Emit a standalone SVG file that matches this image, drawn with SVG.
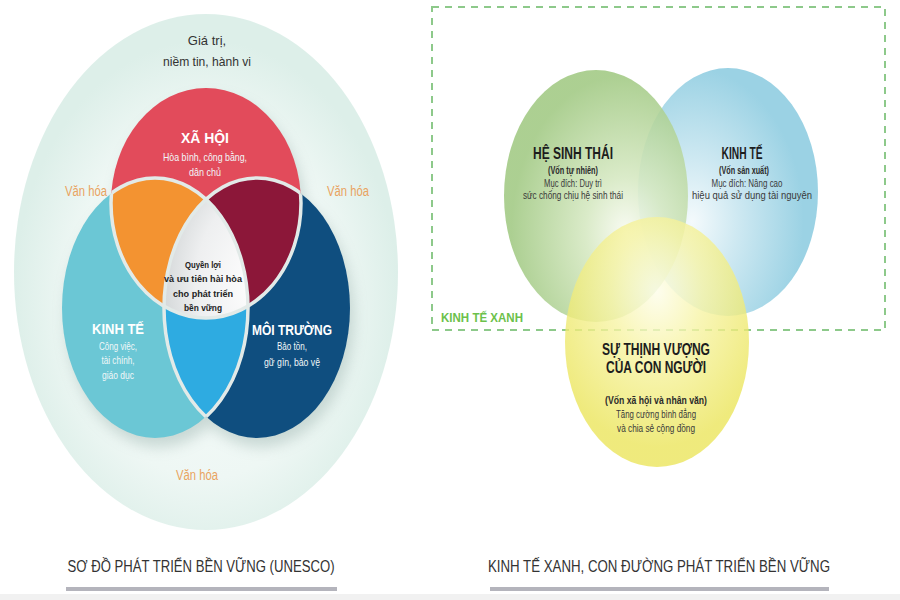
<svg xmlns="http://www.w3.org/2000/svg" xmlns:xlink="http://www.w3.org/1999/xlink" width="900" height="600" viewBox="0 0 900 600">
<style>
  text { font-family: "Liberation Sans", Arial, sans-serif; text-anchor: middle; }
  .cap { font-size: 16px; fill: #333; }
  .vh { font-size: 14px; fill: #e9a360; }
  .wt { fill: #ffffff; font-weight: bold; font-size: 15px; }
  .ws { fill: #f1f7f8; font-size: 11px; }
  .ct { fill: #222; font-weight: bold; font-size: 9.5px; }
  .dt { fill: #1d1d1d; font-weight: bold; font-size: 16px; }
  .db { fill: #2a2a2a; font-weight: bold; font-size: 10px; }
  .ds { fill: #3a3a3a; font-size: 10px; }
  .gap { fill: none; stroke: #e2eae8; stroke-width: 3.5; }
</style>
<defs>
  <ellipse id="cR" cx="206" cy="203" rx="95" ry="115"/>
  <ellipse id="cL" cx="155" cy="308" rx="93" ry="130"/>
  <ellipse id="cD" cx="257" cy="308" rx="93" ry="130"/>
  <clipPath id="clipR"><use xlink:href="#cR"/></clipPath>
  <clipPath id="clipL"><use xlink:href="#cL"/></clipPath>
  <clipPath id="clipD"><use xlink:href="#cD"/></clipPath>
  <clipPath id="clipLD"><use xlink:href="#cL"/><use xlink:href="#cD"/></clipPath>
  <clipPath id="clipRD"><use xlink:href="#cR"/><use xlink:href="#cD"/></clipPath>
  <clipPath id="clipRL"><use xlink:href="#cR"/><use xlink:href="#cL"/></clipPath>
  <radialGradient id="gBg" cx="0.5" cy="0.55" r="0.5">
    <stop offset="0" stop-color="#f8fcfb"/>
    <stop offset="0.7" stop-color="#eef7f4"/>
    <stop offset="1" stop-color="#ddefe9"/>
  </radialGradient>
  <radialGradient id="gCenter" cx="0.5" cy="0.4" r="0.55">
    <stop offset="0" stop-color="#ffffff"/>
    <stop offset="0.6" stop-color="#eeeff0"/>
    <stop offset="1" stop-color="#cfd3d4"/>
  </radialGradient>
  <radialGradient id="gGreen" cx="0.66" cy="0.64" r="0.62">
    <stop offset="0" stop-color="#f7faf0"/>
    <stop offset="0.35" stop-color="#d5e8c1"/>
    <stop offset="1" stop-color="#a1c983"/>
  </radialGradient>
  <radialGradient id="gBlue" cx="0.3" cy="0.62" r="0.62">
    <stop offset="0" stop-color="#f4fafc"/>
    <stop offset="0.4" stop-color="#cfe9f2"/>
    <stop offset="1" stop-color="#9bd2e4"/>
  </radialGradient>
  <radialGradient id="gYellow" cx="0.5" cy="0.3" r="0.62">
    <stop offset="0" stop-color="#fdfde9"/>
    <stop offset="0.4" stop-color="#f7f4a6"/>
    <stop offset="1" stop-color="#ebe55c"/>
  </radialGradient>
  <filter id="blur" x="-30%" y="-30%" width="160%" height="160%">
    <feGaussianBlur stdDeviation="7"/>
  </filter>
</defs>

<rect x="0" y="0" width="900" height="600" fill="#ffffff"/>
<rect x="0" y="594" width="900" height="6" fill="#f1f1f1"/>

<!-- LEFT DIAGRAM -->
<g id="culture-ring">
  <ellipse cx="206" cy="272" rx="192" ry="258" fill="url(#gBg)"/>
  <text class="ds" x="207" y="45" style="font-size:13px;fill:#333">Giá trị,</text>
  <text class="ds" x="207" y="66" style="font-size:13px;fill:#333" textLength="88" lengthAdjust="spacingAndGlyphs">niềm tin, hành vi</text>
  <text class="vh" x="86" y="196" textLength="42" lengthAdjust="spacingAndGlyphs">Văn hóa</text>
  <text class="vh" x="348" y="196" textLength="42" lengthAdjust="spacingAndGlyphs">Văn hóa</text>
  <text class="vh" x="197" y="480" textLength="42" lengthAdjust="spacingAndGlyphs">Văn hóa</text>
</g>

<g id="shadow" filter="url(#blur)" opacity="0.35" transform="translate(4,9)">
  <use xlink:href="#cR" fill="#7f9d97"/>
  <use xlink:href="#cL" fill="#7f9d97"/>
  <use xlink:href="#cD" fill="#7f9d97"/>
</g>

<g id="xa-hoi">
  <use xlink:href="#cR" fill="#e24b5b"/>
</g>
<g id="kinh-te-left">
  <use xlink:href="#cL" fill="#6bc7d5"/>
</g>
<g id="moi-truong">
  <use xlink:href="#cD" fill="#0f4e7f"/>
</g>
<g id="overlap-xh-kt" clip-path="url(#clipR)">
  <use xlink:href="#cL" fill="#f39331"/>
</g>
<g id="overlap-xh-mt" clip-path="url(#clipR)">
  <use xlink:href="#cD" fill="#8c1739"/>
</g>
<g id="overlap-kt-mt" clip-path="url(#clipL)">
  <use xlink:href="#cD" fill="#2eabe1"/>
</g>
<g id="center" clip-path="url(#clipR)">
  <g clip-path="url(#clipL)">
    <use xlink:href="#cD" fill="url(#gCenter)"/>
  </g>
</g>
<g id="gaps">
  <g clip-path="url(#clipLD)"><use xlink:href="#cR" class="gap"/></g>
  <g clip-path="url(#clipRD)"><use xlink:href="#cL" class="gap"/></g>
  <g clip-path="url(#clipRL)"><use xlink:href="#cD" class="gap"/></g>
</g>

<g id="label-xa-hoi">
  <text class="wt" x="205" y="143" textLength="48" lengthAdjust="spacingAndGlyphs">XÃ HỘI</text>
  <text class="ws" x="205" y="161" textLength="84" lengthAdjust="spacingAndGlyphs">Hòa bình, công bằng,</text>
  <text class="ws" x="205" y="176" textLength="32" lengthAdjust="spacingAndGlyphs">dân chủ</text>
</g>
<g id="label-center">
  <text class="ct" x="203" y="268" textLength="36" lengthAdjust="spacingAndGlyphs">Quyền lợi</text>
  <text class="ct" x="203" y="282" textLength="78" lengthAdjust="spacingAndGlyphs">và ưu tiên hài hòa</text>
  <text class="ct" x="203" y="297" textLength="60" lengthAdjust="spacingAndGlyphs">cho phát triển</text>
  <text class="ct" x="203" y="311" textLength="38" lengthAdjust="spacingAndGlyphs">bền vững</text>
</g>
<g id="label-kinh-te-left">
  <text class="wt" x="118" y="334" textLength="52" lengthAdjust="spacingAndGlyphs">KINH TẾ</text>
  <text class="ws" x="118" y="350" textLength="38" lengthAdjust="spacingAndGlyphs">Công việc,</text>
  <text class="ws" x="118" y="364" textLength="33" lengthAdjust="spacingAndGlyphs">tài chính,</text>
  <text class="ws" x="118" y="379" textLength="32" lengthAdjust="spacingAndGlyphs">giáo dục</text>
</g>
<g id="label-moi-truong">
  <text class="wt" x="292" y="335" textLength="80" lengthAdjust="spacingAndGlyphs">MÔI TRƯỜNG</text>
  <text class="ws" x="292" y="350" textLength="30" lengthAdjust="spacingAndGlyphs">Bảo tồn,</text>
  <text class="ws" x="292" y="366" textLength="56" lengthAdjust="spacingAndGlyphs">gữ gìn, bảo vệ</text>
</g>

<!-- RIGHT DIAGRAM -->
<g id="kinh-te-xanh">
  <rect x="432" y="7" width="453" height="323" fill="none" stroke="#8dc98a" stroke-width="2" stroke-dasharray="7 6"/>
  <text x="482" y="322" style="font-weight:bold;font-size:13px;fill:#6cc14b" textLength="82" lengthAdjust="spacingAndGlyphs">KINH TẾ XANH</text>
</g>
<g id="kinh-te-right">
  <ellipse cx="728" cy="192" rx="90" ry="124" fill="url(#gBlue)"/>
</g>
<g id="he-sinh-thai">
  <ellipse cx="596" cy="196" rx="92" ry="126" fill="url(#gGreen)" opacity="0.88"/>
</g>
<g id="thinh-vuong">
  <ellipse cx="657" cy="342" rx="92" ry="125" fill="url(#gYellow)" opacity="0.8"/>
</g>
<g id="label-he-sinh-thai">
  <text class="dt" x="573" y="159" textLength="80" lengthAdjust="spacingAndGlyphs">HỆ SINH THÁI</text>
  <text class="db" x="573" y="174" textLength="50" lengthAdjust="spacingAndGlyphs">(Vốn tự nhiên)</text>
  <text class="ds" x="573" y="187" textLength="58" lengthAdjust="spacingAndGlyphs">Mục đích: Duy trì</text>
  <text class="ds" x="573" y="199" textLength="100" lengthAdjust="spacingAndGlyphs">sức chống chịu hệ sinh thái</text>
</g>
<g id="label-kinh-te-right">
  <text class="dt" x="742" y="159" textLength="41" lengthAdjust="spacingAndGlyphs">KINH TẾ</text>
  <text class="db" x="744" y="174" textLength="50" lengthAdjust="spacingAndGlyphs">(Vốn sản xuất)</text>
  <text class="ds" x="747" y="187" textLength="71" lengthAdjust="spacingAndGlyphs">Mục đích: Nâng cao</text>
  <text class="ds" x="752" y="199" textLength="120" lengthAdjust="spacingAndGlyphs">hiệu quả sử dụng tài nguyên</text>
</g>
<g id="label-thinh-vuong">
  <text class="dt" x="656" y="355" textLength="108" lengthAdjust="spacingAndGlyphs">SỰ THỊNH VƯỢNG</text>
  <text class="dt" x="656" y="373" textLength="100" lengthAdjust="spacingAndGlyphs">CỦA CON NGƯỜI</text>
  <text class="db" x="656" y="404" textLength="102" lengthAdjust="spacingAndGlyphs">(Vốn xã hội và nhân văn)</text>
  <text class="ds" x="656" y="418" textLength="80" lengthAdjust="spacingAndGlyphs">Tăng cường bình đẳng</text>
  <text class="ds" x="656" y="432" textLength="78" lengthAdjust="spacingAndGlyphs">và chia sẻ cộng đồng</text>
</g>

<!-- CAPTIONS -->
<g id="caption-left">
  <text class="cap" x="201" y="572" textLength="267" lengthAdjust="spacingAndGlyphs">SƠ ĐỒ PHÁT TRIỂN BỀN VỮNG (UNESCO)</text>
  <rect x="66" y="587" width="271" height="4" fill="#b4b4bc"/>
</g>
<g id="caption-right">
  <text class="cap" x="659" y="572" textLength="342" lengthAdjust="spacingAndGlyphs">KINH TẾ XANH, CON ĐƯỜNG PHÁT TRIỂN BỀN VỮNG</text>
  <rect x="490" y="587" width="339" height="4" fill="#b4b4bc"/>
</g>
</svg>
